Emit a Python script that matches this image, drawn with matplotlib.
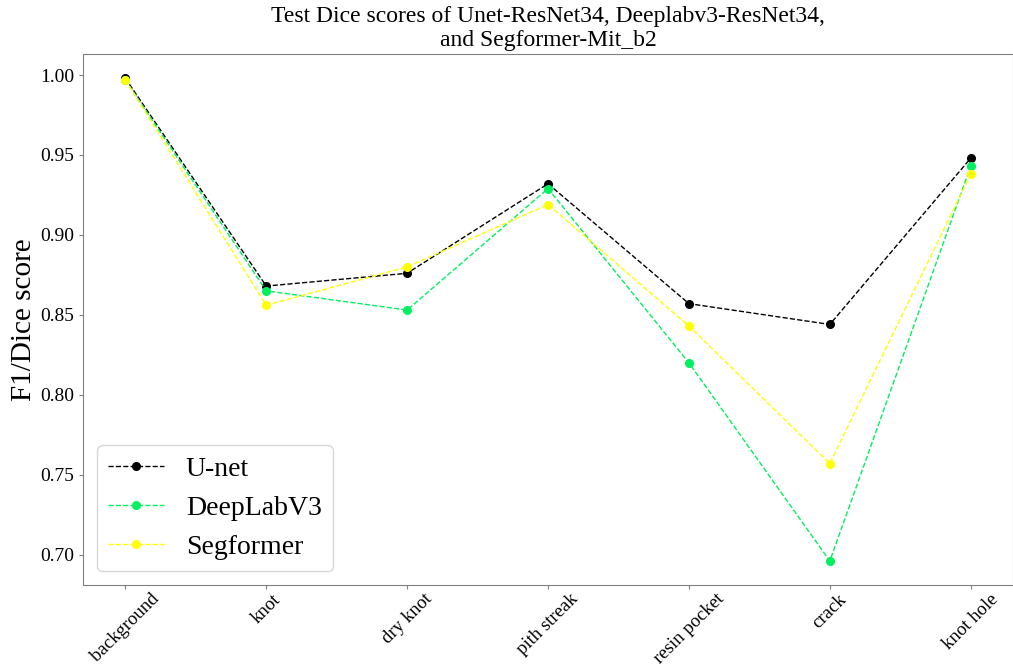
import matplotlib
matplotlib.use("Agg")
import matplotlib.pyplot as plt

plt.rcParams['font.family'] = ['Liberation Serif', 'DejaVu Serif']

classes = ['background', 'knot', 'dry knot', 'pith streak', 'resin pocket', 'crack', 'knot hole']
unet = [0.998, 0.868, 0.876, 0.932, 0.857, 0.844, 0.948]
deeplab = [0.997, 0.865, 0.853, 0.929, 0.820, 0.696, 0.943]
segformer = [0.997, 0.856, 0.880, 0.919, 0.843, 0.757, 0.938]

fig = plt.figure(figsize=(10.13, 6.68), dpi=100)
ax = fig.add_axes([0.082, 0.124, 0.918, 0.795])

ax.plot(classes, unet, 'o--', color='black', lw=1, ms=5.5, label='U-net')
ax.plot(classes, deeplab, 'o--', color='#00f060', lw=1, ms=5.5, label='DeepLabV3')
ax.plot(classes, segformer, 'o--', color='#ffff00', lw=1, ms=5.5, label='Segformer')

ax.set_title('Test Dice scores of Unet-ResNet34, Deeplabv3-ResNet34,\nand Segformer-Mit_b2', fontsize=17)
ax.set_ylabel('F1/Dice score', fontsize=21, labelpad=2)
ax.tick_params(axis='both', labelsize=14, color='#808080', length=3)
ax.tick_params(axis='x', labelsize=13.5, pad=1)
plt.setp(ax.get_xticklabels(), rotation=45)
for s in ax.spines.values():
    s.set_color('#808080')
ax.legend(fontsize=20, loc='lower left')

fig.savefig('out.png', dpi=100)
